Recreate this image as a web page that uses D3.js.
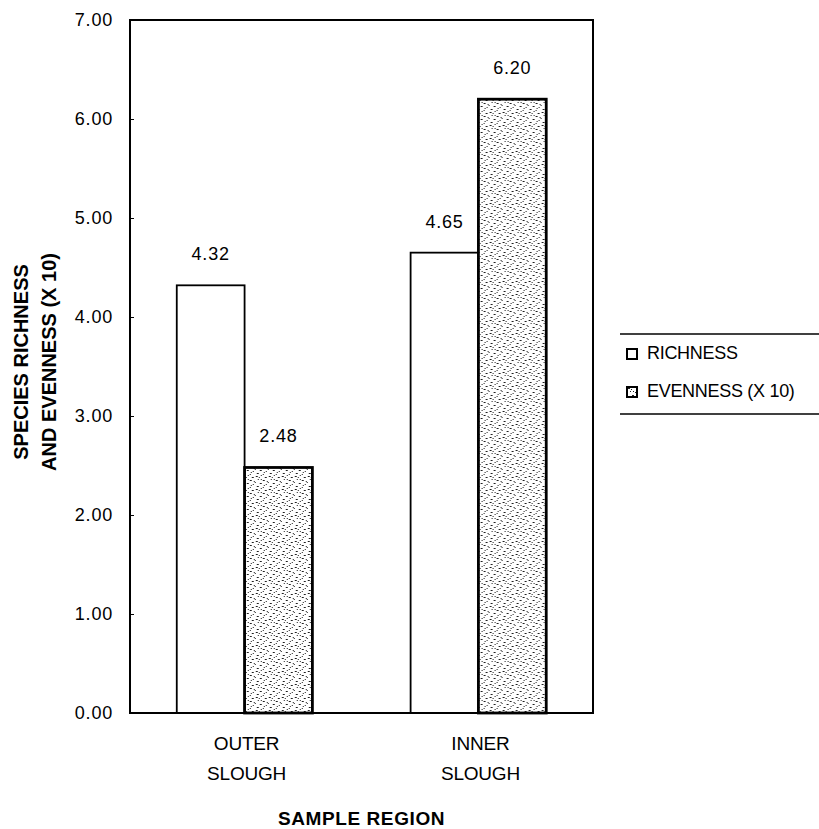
<!DOCTYPE html>
<html>
<head>
<meta charset="utf-8">
<script src="https://cdn.jsdelivr.net/npm/d3@7"></script>
<style>
  body { margin: 0; background: #fff; }
  text { font-family: "Liberation Sans", Arial, sans-serif; fill: #000; }
</style>
</head>
<body>
<div id="chart"></div>
<script>
// data
const regions = ["OUTER SLOUGH", "INNER SLOUGH"]
const series = ["RICHNESS", "EVENNESS (X 10)"]
const richness = [4.32, 4.65]
const evenness = [2.48, 6.20]
const yTicks = [0, 1, 2, 3, 4, 5, 6, 7]

const width = 819, height = 829
const margin = { top: 20, right: 226, bottom: 116, left: 130 }
const innerW = width - margin.left - margin.right
const innerH = height - margin.top - margin.bottom

// rows of the table, one per region
const rows = regions.map((r, i) => ({ region: r, values: [richness[i], evenness[i]] }))

const svg = d3.select('#chart')
    .append('svg')
    .attr('width', width)
    .attr('height', height)

// stipple fill for the evenness bars
const defs = svg.append('defs')
const pat = defs.append('pattern')
    .attr('id', 'stipple')
    .attr('patternUnits', 'userSpaceOnUse')
    .attr('width', 13)
    .attr('height', 13)
pat.append('rect').attr('width', 13).attr('height', 13).attr('fill', '#fff')
const dots = [[1, 1, 2], [6, 0, 1], [10, 2, 2], [3, 4, 1], [8, 5, 2], [0, 7, 1], [5, 8, 2],
    [11, 9, 1], [2, 11, 2], [8, 12, 1], [12, 6, 1], [4, 2, 1], [9, 10, 1], [6, 4, 1]]
dots.forEach(d => {
    pat.append('rect').attr('x', d[0]).attr('y', d[1]).attr('width', d[2]).attr('height', 1).attr('fill', '#222')
})

const g = svg.append('g').attr('transform', `translate(${margin.left},${margin.top})`)

const x0 = d3.scaleBand()
    .domain(regions)
    .range([0, innerW])
    .paddingInner(0.42)
    .paddingOuter(0.2)

const x1 = d3.scaleBand()
    .domain(series)
    .range([0, x0.bandwidth()])

const y = d3.scaleLinear()
    .domain([0, 7])
    .range([innerH, 0])

// y axis with small inward ticks
const yAxis = g.append('g')
    .call(d3.axisLeft(y).tickValues(yTicks).tickFormat(d3.format('.2f')).tickSizeInner(-4).tickSizeOuter(0).tickPadding(17))
yAxis.select('.domain').remove()
yAxis.selectAll('text')
    .attr('font-size', 18)
    .attr('letter-spacing', 0.8)
    .style('font-family', '"Liberation Sans", Arial, sans-serif')
yAxis.selectAll('line').attr('stroke', '#000')

// bars
const group = g.selectAll('g.region')
    .data(rows)
    .join('g')
    .attr('class', 'region')
    .attr('transform', d => `translate(${x0(d.region)},0)`)

const bar = group.selectAll('g.bar')
    .data(d => d.values.map((v, i) => ({ key: series[i], value: v })))
    .join('g')
    .attr('class', 'bar')

bar.append('rect')
    .attr('x', d => x1(d.key))
    .attr('y', d => y(d.value))
    .attr('width', x1.bandwidth())
    .attr('height', d => innerH - y(d.value))
    .attr('fill', d => d.key === series[0] ? '#fff' : 'url(#stipple)')
    .attr('stroke', '#000')
    .attr('stroke-width', d => d.key === series[0] ? 1.8 : 2.8)

bar.append('text')
    .attr('x', d => x1(d.key) + x1.bandwidth() / 2)
    .attr('y', d => y(d.value) - 25)
    .attr('text-anchor', 'middle')
    .attr('font-size', 18)
    .attr('letter-spacing', 0.8)
    .text(d => d.value.toFixed(2))

// plot frame
g.append('rect')
    .attr('width', innerW)
    .attr('height', innerH)
    .attr('fill', 'none')
    .attr('stroke', '#000')
    .attr('stroke-width', 2)

// category labels on two lines
const cat = g.selectAll('text.cat')
    .data(regions)
    .join('text')
    .attr('class', 'cat')
    .attr('text-anchor', 'middle')
    .attr('font-size', 19)
    .attr('letter-spacing', -0.2)
    .attr('transform', d => `translate(${x0(d) + x0.bandwidth() / 2 + 2},${innerH + 37})`)
cat.selectAll('tspan')
    .data(d => d.split(' '))
    .join('tspan')
    .attr('x', 0)
    .attr('dy', (d, i) => i === 0 ? 0 : 30)
    .text(d => d)

// x title
g.append('text')
    .attr('x', innerW / 2)
    .attr('y', innerH + 112)
    .attr('text-anchor', 'middle')
    .attr('font-size', 19)
    .attr('font-weight', 'bold')
    .attr('letter-spacing', 0.6)
    .text('SAMPLE REGION')

// y title, two lines rotated
const yTitle = svg.append('text')
    .attr('transform', `translate(28,362) rotate(-90)`)
    .attr('text-anchor', 'middle')
    .attr('font-size', 20)
    .attr('font-weight', 'bold')
yTitle.append('tspan').attr('x', 0).attr('dy', 0).text('SPECIES RICHNESS')
yTitle.append('tspan').attr('x', 0).attr('dy', 28).text('AND EVENNESS (X 10)')

// legend
const lg = svg.append('g').attr('transform', 'translate(620,334)')
lg.append('line').attr('x1', 0).attr('x2', 199).attr('y1', 0).attr('y2', 0).attr('stroke', '#000').attr('stroke-width', 1.5)
lg.append('line').attr('x1', 0).attr('x2', 199).attr('y1', 80).attr('y2', 80).attr('stroke', '#000').attr('stroke-width', 1.5)
const item = lg.selectAll('g.item')
    .data(series)
    .join('g')
    .attr('class', 'item')
    .attr('transform', (d, i) => `translate(7,${15 + i * 38})`)
item.append('rect')
    .attr('width', 10)
    .attr('height', 10)
    .attr('fill', (d, i) => i === 0 ? '#fff' : 'url(#stipple)')
    .attr('stroke', '#000')
    .attr('stroke-width', 2)
item.append('text')
    .attr('x', 20)
    .attr('y', 10)
    .attr('font-size', 18)
    .attr('letter-spacing', -0.3)
    .text(d => d)
</script>
</body>
</html>
